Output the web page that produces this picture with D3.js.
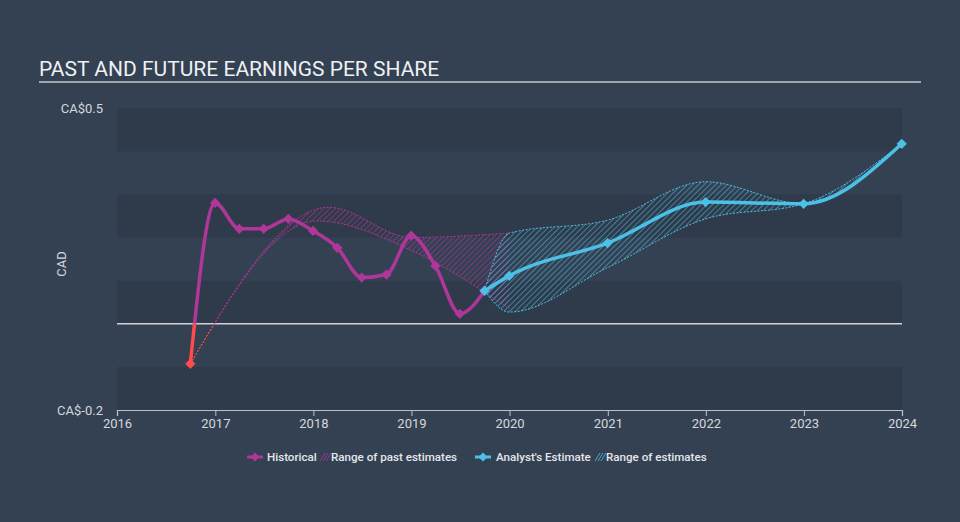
<!DOCTYPE html>
<html><head><meta charset="utf-8">
<script src="https://cdn.jsdelivr.net/npm/d3@7"></script>
<style>
body{margin:0;background:#344152;}
svg{display:block;font-family:Roboto, "Noto Sans", sans-serif;}
</style>
</head><body>
<svg id="chart" width="960" height="522"></svg>
<script>
// ---- data ----
const histDates = ["2016-09-30","2016-12-31","2017-03-31","2017-06-30","2017-09-30","2017-12-31","2018-03-31","2018-06-30","2018-09-30","2018-12-31","2019-03-31","2019-06-30","2019-09-30"];
const histValues = [-0.093,0.28,0.22,0.22,0.243,0.215,0.176,0.107,0.114,0.204,0.134,0.023,0.076];

const pastRangeDates = ["2016-09-30","2018-02-28","2018-12-31","2019-12-31"];
const pastRangeHigh = [-0.093,0.27,0.20,0.21];
const pastRangeLowDates = ["2016-09-30","2018-01-15","2018-12-31","2019-12-31"];
const pastRangeLow = [-0.093,0.238,0.17,0.035];

const estDates = ["2019-09-30","2019-12-31","2020-12-31","2021-12-31","2022-12-31","2023-12-31"];
const estValues = [0.076,0.111,0.187,0.282,0.278,0.417];
const estHigh = [0.076,0.21,0.24,0.329,0.278,0.417];
const estLow = [0.076,0.027,0.13,0.243,0.278,0.417];

const xTickYears = [2016,2017,2018,2019,2020,2021,2022,2023,2024];
const yTickValues = [0.5,-0.2];
const yTickLabels = ["CA$0.5","CA$-0.2"];

const title = "PAST AND FUTURE EARNINGS PER SHARE";
const legendItems = ["Historical","Range of past estimates","Analyst's Estimate","Range of estimates"];

(function () {
// ---- setup ----
const parse = d3.timeParse("%Y-%m-%d");
const svg = d3.select("#chart");
const W = 960, H = 522;
const pL = 117, pR = 902, pT = 108, pB = 410;

const x = d3.scaleTime().domain([new Date(2016,0,1), new Date(2024,0,1)]).range([pL, pR]);
const y = d3.scaleLinear().domain([-0.2, 0.5]).range([pB, pT]);

const COL_BG = "#344152", COL_DARK = "#2f3b4a";
const COL_HIST = "#b0369a", COL_RED = "#ff4b4b", COL_EST = "#4cc0e6";

svg.append("rect").attr("width", W).attr("height", H).attr("fill", COL_BG);

const defs = svg.append("defs");
function hatch(id, color, op) {
  const p = defs.append("pattern").attr("id", id).attr("patternUnits", "userSpaceOnUse")
    .attr("width", 4).attr("height", 4).attr("patternTransform", "rotate(45)");
  p.append("line").attr("x1", 0).attr("y1", 0).attr("x2", 0).attr("y2", 4)
    .attr("stroke", color).attr("stroke-width", 1.4).attr("stroke-opacity", op);
}
hatch("hPast", "#b0369a", 0.8);
hatch("hEst", "#4cc0e6", 0.75);

defs.append("clipPath").attr("id", "above").append("rect")
  .attr("x", 0).attr("y", 0).attr("width", W).attr("height", y(0));
defs.append("clipPath").attr("id", "below").append("rect")
  .attr("x", 0).attr("y", y(0)).attr("width", W).attr("height", H - y(0));

// bands
for (let i = 0; i < 7; i++) {
  const v0 = -0.2 + i * 0.1, v1 = v0 + 0.1;
  svg.append("rect").attr("x", pL).attr("width", pR - pL)
    .attr("y", y(v1)).attr("height", y(v0) - y(v1))
    .attr("fill", i % 2 === 0 ? COL_DARK : COL_BG);
}

// title
svg.append("text").attr("x", 39).attr("y", 75.5).attr("fill", "#eef0f2")
  .attr("font-size", 21).text(title);
svg.append("line").attr("x1", 39).attr("x2", 921).attr("y1", 82).attr("y2", 82)
  .attr("stroke", "#c5c9ce").attr("stroke-width", 1.5);

// y labels
svg.selectAll(".ylab").data(yTickValues).enter().append("text")
  .attr("x", 103).attr("y", d => y(d)).attr("dy", "0.35em")
  .attr("text-anchor", "end").attr("fill", "#d4d8dc").attr("font-size", 13)
  .text((d, i) => yTickLabels[i]);
svg.append("text").attr("transform", `translate(66,${(pT + pB) / 2 + 5}) rotate(-90)`)
  .attr("text-anchor", "middle").attr("fill", "#d4d8dc").attr("font-size", 13).text("CAD");

// x axis
const xAxis = d3.axisBottom(x).tickValues(xTickYears.map(yr => new Date(yr, 0, 1)))
  .tickFormat(d3.timeFormat("%Y")).tickSize(6).tickPadding(3);
const gx = svg.append("g").attr("transform", `translate(0,${pB})`).call(xAxis);
gx.select(".domain").attr("stroke", "#b9c0c8").attr("stroke-width", 1.2);
gx.selectAll(".tick line").attr("stroke", "#b9c0c8");
gx.selectAll(".tick text").attr("fill", "#d4d8dc").attr("font-size", 13).attr("font-family", "Roboto, sans-serif");

// zero line
svg.append("line").attr("x1", pL).attr("x2", pR).attr("y1", y(0)).attr("y2", y(0))
  .attr("stroke", "#cfd3d8").attr("stroke-width", 1.5);

const curve = d3.curveMonotoneX;
const hist = histDates.map((d, i) => ({ d: parse(d), v: histValues[i] }));
const est = estDates.map((d, i) => ({ d: parse(d), v: estValues[i], hi: estHigh[i], lo: estLow[i] }));
const pastHi = pastRangeDates.map((d, i) => ({ d: parse(d), v: pastRangeHigh[i] }));
const pastLo = pastRangeLowDates.map((d, i) => ({ d: parse(d), v: pastRangeLow[i] }));

const lineGen = d3.line().x(p => x(p.d)).y(p => y(p.v)).curve(curve);

function rangePath(upper, lower) {
  const up = lineGen(upper);
  const lowRev = lineGen(lower.slice().reverse());
  return up + "L" + lowRev.slice(1) + "Z";
}
svg.append("path").attr("d", rangePath(pastHi, pastLo)).attr("fill", "url(#hPast)");
[pastHi, pastLo].forEach(arr => {
  svg.append("path").attr("d", lineGen(arr)).attr("fill", "none").attr("stroke", COL_HIST)
    .attr("stroke-width", 1).attr("stroke-dasharray", "2,1.5").attr("clip-path", "url(#above)");
  svg.append("path").attr("d", lineGen(arr)).attr("fill", "none").attr("stroke", COL_RED)
    .attr("stroke-width", 1).attr("stroke-dasharray", "2,1.5").attr("clip-path", "url(#below)");
});

const estArea = d3.area().x(p => x(p.d)).y0(p => y(p.lo)).y1(p => y(p.hi)).curve(curve);
svg.append("path").attr("d", estArea(est)).attr("fill", "url(#hEst)");
svg.append("path").attr("d", d3.line().x(p => x(p.d)).y(p => y(p.hi)).curve(curve)(est))
  .attr("fill", "none").attr("stroke", COL_EST).attr("stroke-width", 1).attr("stroke-dasharray", "2,1.5");
svg.append("path").attr("d", d3.line().x(p => x(p.d)).y(p => y(p.lo)).curve(curve)(est))
  .attr("fill", "none").attr("stroke", COL_EST).attr("stroke-width", 1).attr("stroke-dasharray", "2,1.5");

svg.append("path").attr("d", lineGen(hist)).attr("fill", "none").attr("stroke", COL_HIST)
  .attr("stroke-width", 3.5).attr("clip-path", "url(#above)");
svg.append("path").attr("d", lineGen(hist)).attr("fill", "none").attr("stroke", COL_RED)
  .attr("stroke-width", 3.5).attr("clip-path", "url(#below)");

const diamond = d3.symbol().type(d3.symbolSquare).size(52);
svg.selectAll(".hm").data(hist.slice(0, -1)).enter().append("path")
  .attr("d", diamond).attr("transform", p => `translate(${x(p.d)},${y(p.v)}) rotate(45)`)
  .attr("fill", p => p.v < 0 ? COL_RED : COL_HIST);

svg.append("path").attr("d", lineGen(est)).attr("fill", "none").attr("stroke", COL_EST).attr("stroke-width", 3.5);
svg.selectAll(".em").data(est).enter().append("path")
  .attr("d", diamond).attr("transform", p => `translate(${x(p.d)},${y(p.v)}) rotate(45)`)
  .attr("fill", COL_EST);

// legend
const lg = svg.append("g").attr("font-size", 11.6).attr("fill", "#e4e7ea").attr("font-weight", 500);
function lineIcon(cx, color) {
  lg.append("line").attr("x1", cx - 8).attr("x2", cx + 8).attr("y1", 457).attr("y2", 457)
    .attr("stroke", color).attr("stroke-width", 3);
  lg.append("path").attr("d", d3.symbol().type(d3.symbolSquare).size(40))
    .attr("transform", `translate(${cx},457) rotate(45)`).attr("fill", color);
}
function hatchIcon(x0, color) {
  for (let k = 0; k < 3; k++) {
    lg.append("line").attr("x1", x0 + k * 3).attr("y1", 461).attr("x2", x0 + k * 3 + 5).attr("y2", 453)
      .attr("stroke", color).attr("stroke-width", 1).attr("stroke-opacity", 0.8);
  }
}
lineIcon(255, COL_HIST);
lg.append("text").attr("x", 267).attr("y", 457).attr("dy", "0.35em").text(legendItems[0]);
hatchIcon(320, COL_HIST);
lg.append("text").attr("x", 331).attr("y", 457).attr("dy", "0.35em").text(legendItems[1]);
lineIcon(483, COL_EST);
lg.append("text").attr("x", 496).attr("y", 457).attr("dy", "0.35em").text(legendItems[2]);
hatchIcon(595, COL_EST);
lg.append("text").attr("x", 606).attr("y", 457).attr("dy", "0.35em").text(legendItems[3]);
})();
</script>
</body></html>
